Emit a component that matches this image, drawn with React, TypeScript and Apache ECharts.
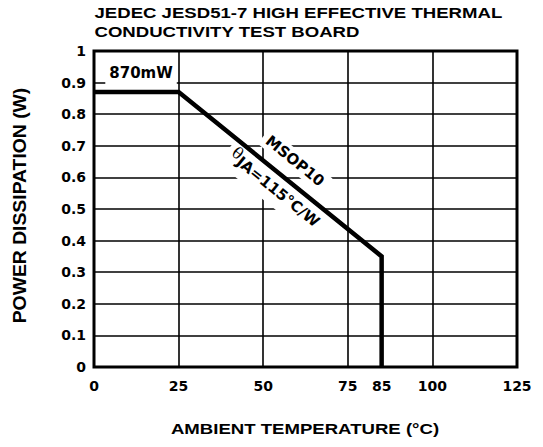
import React, { useEffect, useRef } from "react";
import * as echarts from "echarts";

const titleLines = ["JEDEC JESD51-7 HIGH EFFECTIVE THERMAL", "CONDUCTIVITY TEST BOARD"];
const xTicks = [0, 25, 50, 75, 85, 100, 125];
const yTicks = [0, 0.1, 0.2, 0.3, 0.4, 0.5, 0.6, 0.7, 0.8, 0.9, 1];
const temperature = [0, 25, 85, 85];
const power = [0.87, 0.87, 0.35, 0];
const xName = "AMBIENT TEMPERATURE (°C)";
const yName = "POWER DISSIPATION (W)";

const FONT = "'DejaVu Sans', 'Liberation Sans', Arial, sans-serif";
const ARIAL = "'Liberation Sans', Arial, Helvetica, sans-serif";

export default function App() {
  const ref = useRef<HTMLDivElement>(null);
  useEffect(() => {
    if (!ref.current) return;
    const chart = echarts.init(ref.current, null, { renderer: "svg" });
    const txt = { color: "#000", fontWeight: "bold" as const, fontFamily: FONT, fontSize: 14 };
    const rot = -39;
    const headFont = `bold 15px ${ARIAL}`;
    chart.setOption({
      animation: false,
      backgroundColor: "#fff",
      graphic: [
        {
          type: "text",
          x: 94.5,
          y: 3,
          scaleX: 1.24,
          style: {
            text: titleLines.join("\n"),
            font: headFont,
            fill: "#000",
            align: "left",
            verticalAlign: "top",
            lineHeight: 19.3,
          },
        },
        {
          type: "text",
          x: 305,
          y: 428.7,
          scaleX: 1.24,
          style: {
            text: xName,
            font: headFont,
            fill: "#000",
            align: "center",
            verticalAlign: "middle",
          },
        },
        {
          type: "text",
          x: 20,
          y: 205.5,
          rotation: Math.PI / 2,
          scaleX: 1.29,
          scaleY: 1.2,
          style: {
            text: yName,
            font: headFont,
            fill: "#000",
            align: "center",
            verticalAlign: "middle",
          },
        },
      ],
      grid: {
        left: 94,
        right: 26,
        top: 51,
        bottom: 80,
        show: true,
        borderColor: "#000",
        borderWidth: 3,
        backgroundColor: "transparent",
      },
      xAxis: {
        type: "value",
        min: 0,
        max: 125,
        interval: 25,
        axisLine: { show: false },
        axisTick: { show: false },
        axisLabel: { ...txt, margin: 12, customValues: xTicks, formatter: (v: number) => String(v) },
        splitLine: { show: true, lineStyle: { color: "#000", width: 1.6 } },
      },
      yAxis: {
        type: "value",
        min: 0,
        max: 1,
        interval: 0.1,
        axisLine: { show: false },
        axisTick: { show: false },
        axisLabel: {
          ...txt,
          margin: 8,
          customValues: yTicks,
          formatter: (v: number) => String(Math.round(v * 10) / 10),
        },
        splitLine: { show: true, lineStyle: { color: "#000", width: 1.6 } },
      },
      series: [
        {
          type: "line",
          data: temperature.map((t, i) => [t, power[i]]),
          symbol: "none",
          lineStyle: { color: "#000", width: 4.5, cap: "butt", join: "miter" },
          z: 4,
          markPoint: {
            symbol: "circle",
            symbolSize: 0,
            z: 2,
            data: [
              {
                coord: [13.9, 0.93],
                label: {
                  show: true,
                  position: "inside",
                  formatter: "870mW",
                  ...txt,
                  fontSize: 15,
                  backgroundColor: "#fff",
                  padding: [5, 4, 5, 4],
                },
              },
              {
                coord: [59.4, 0.652],
                label: {
                  show: true,
                  position: "inside",
                  formatter: "MSOP10",
                  rotate: rot,
                  ...txt,
                  fontSize: 15,
                  backgroundColor: "#fff",
                  padding: [3, 5, 2, 5],
                },
              },
              {
                coord: [53.2, 0.563],
                label: {
                  show: true,
                  position: "inside",
                  formatter: "{a|θ}{b|JA=115°C/W}",
                  rotate: rot,
                  backgroundColor: "#fff",
                  padding: [2, 5, 3, 5],
                  rich: {
                    a: { color: "#000", fontFamily: "'DejaVu Serif', serif", fontSize: 16, fontWeight: "normal", padding: [0, 0, 9, 0] },
                    b: { ...txt, fontSize: 15 },
                  },
                },
              },
            ],
          },
        },
      ],
    });
    return () => chart.dispose();
  }, []);
  return (
    <div
      ref={ref}
      style={{ position: "fixed", left: 0, top: 0, width: 543, height: 447, background: "#fff" }}
    />
  );
}
